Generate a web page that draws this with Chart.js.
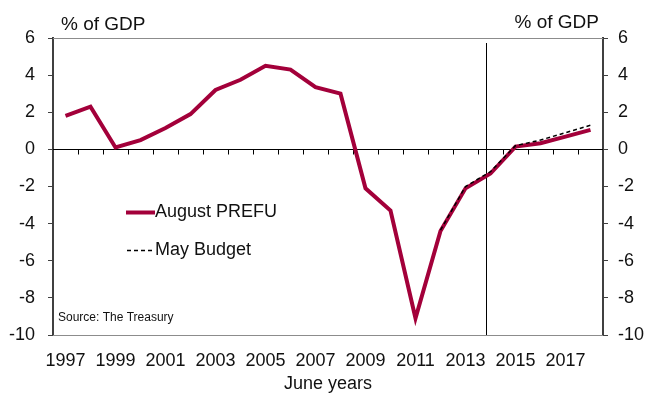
<!DOCTYPE html>
<html>
<head>
<meta charset="utf-8">
<script src="https://cdn.jsdelivr.net/npm/chart.js@4/dist/chart.umd.min.js"></script>
<style>
  body { margin: 0; background: #fff; }
  #wrap { width: 648px; height: 393px; }
</style>
</head>
<body>
<div id="wrap"><canvas id="chart1" width="648" height="393"></canvas></div>
<script>
var years = ["1997", "1998", "1999", "2000", "2001", "2002", "2003", "2004", "2005", "2006", "2007",
  "2008", "2009", "2010", "2011", "2012", "2013", "2014", "2015", "2016", "2017", "2018"];
var augustPrefu = [1.8, 2.3, 0.1, 0.5, 1.15, 1.9, 3.2, 3.75, 4.5, 4.3, 3.35,
  3.0, -2.1, -3.3, -9.1, -4.4, -2.1, -1.3, 0.15, 0.33, 0.69, 1.05];
var mayBudget = [null, null, null, null, null, null, null, null, null, null, null,
  null, null, null, null, -4.35, -2.0, -1.2, 0.2, 0.5, 0.9, 1.3];
var yTicks = [-10, -8, -6, -4, -2, 0, 2, 4, 6];
var forecastMarker = 16.8; // category index where the vertical line sits

var FONT = "'Liberation Sans', Arial, sans-serif";
var RED = "#a3003a";

var overlay = {
  id: "overlay",
  beforeDatasetsDraw: function (chart) {
    var ctx = chart.ctx;
    var a = chart.chartArea;
    var x = chart.scales.x;
    var y = chart.scales.y;
    ctx.save();
    // top and bottom frame
    ctx.strokeStyle = "#8c8c8c";
    ctx.lineWidth = 1;
    ctx.beginPath();
    ctx.moveTo(a.left, a.top + 0.5);
    ctx.lineTo(a.right, a.top + 0.5);
    ctx.moveTo(a.left, a.bottom + 0.5);
    ctx.lineTo(a.right, a.bottom + 0.5);
    ctx.stroke();
    // zero line with ticks between categories
    var y0 = Math.round(y.getPixelForValue(0)) + 0.5;
    ctx.strokeStyle = "#000";
    ctx.beginPath();
    ctx.moveTo(a.left, y0);
    ctx.lineTo(a.right, y0);
    var step = x.getPixelForValue(1) - x.getPixelForValue(0);
    for (var i = 1; i < years.length; i++) {
      var px = Math.round(x.getPixelForValue(i) - step / 2) + 0.5;
      ctx.moveTo(px, y0);
      ctx.lineTo(px, y0 + 5);
    }
    // forecast marker
    var mx = Math.round(x.getPixelForValue(0) + forecastMarker * step) + 0.5;
    ctx.moveTo(mx, a.top + 5);
    ctx.lineTo(mx, a.bottom);
    ctx.stroke();
    ctx.restore();
  },
  afterDraw: function (chart) {
    var ctx = chart.ctx;
    ctx.save();
    ctx.fillStyle = "#111";
    ctx.textBaseline = "middle";
    ctx.font = "19px " + FONT;
    ctx.textAlign = "left";
    ctx.fillText("% of GDP", 61, 25);
    ctx.textAlign = "right";
    ctx.fillText("% of GDP", 599, 23);
    // legend
    ctx.textAlign = "left";
    ctx.font = "18px " + FONT;
    ctx.strokeStyle = RED;
    ctx.lineWidth = 4;
    ctx.beginPath();
    ctx.moveTo(126, 212.5);
    ctx.lineTo(155, 212.5);
    ctx.stroke();
    ctx.fillText("August PREFU", 155, 212);
    ctx.strokeStyle = "#000";
    ctx.lineWidth = 1.5;
    ctx.setLineDash([4, 3]);
    ctx.beginPath();
    ctx.moveTo(127, 250.5);
    ctx.lineTo(154, 250.5);
    ctx.stroke();
    ctx.setLineDash([]);
    ctx.fillText("May Budget", 155, 250);
    // source
    ctx.font = "12px " + FONT;
    ctx.fillText("Source: The Treasury", 58, 318);
    ctx.restore();
  }
};

var ctx = document.getElementById("chart1");
var myChart = new Chart(ctx, {
  type: "line",
  data: {
    labels: years,
    datasets: [
      {
        label: "August PREFU",
        data: augustPrefu,
        borderColor: RED,
        borderWidth: 4,
        pointRadius: 0,
        tension: 0,
        order: 2,
      },
      {
        label: "May Budget",
        data: mayBudget,
        borderColor: "#000",
        borderWidth: 1.5,
        borderDash: [4, 3],
        pointRadius: 0,
        tension: 0,
        order: 1,
      },
    ],
  },
  options: {
    responsive: false,
    animation: false,
    layout: { padding: { top: 38, left: 0, right: 0, bottom: 0 } },
    plugins: {
      legend: { display: false },
      tooltip: { enabled: false },
    },
    scales: {
      x: {
        type: "category",
        offset: true,
        grid: { display: false, drawTicks: false },
        border: { display: false },
        ticks: {
          autoSkip: false,
          maxRotation: 0,
          padding: 15,
          color: "#111",
          font: { size: 18, family: FONT },
          callback: function (val, index) {
            return index % 2 === 0 ? this.getLabelForValue(val) : "";
          },
        },
        title: {
          display: true,
          text: "June years",
          color: "#111",
          padding: { top: 0, bottom: -2 },
          font: { size: 18, family: FONT },
        },
        afterFit: function (s) { s.height = 58; },
      },
      y: {
        position: "left",
        min: -10,
        max: 6,
        afterBuildTicks: function (s) { s.ticks = yTicks.map(function (v) { return { value: v }; }); },
        grid: { drawOnChartArea: false, tickLength: 5, color: "#404040" },
        border: { color: "#404040", width: 2 },
        ticks: { padding: 13, color: "#111", font: { size: 18, family: FONT } },
        afterFit: function (s) { s.width = 53; },
      },
      y2: {
        position: "right",
        min: -10,
        max: 6,
        afterBuildTicks: function (s) { s.ticks = yTicks.map(function (v) { return { value: v }; }); },
        grid: { drawOnChartArea: false, tickLength: 5, color: "#404040" },
        border: { color: "#404040", width: 2 },
        ticks: { padding: 10, color: "#111", font: { size: 18, family: FONT } },
        afterFit: function (s) { s.width = 45; },
      },
    },
  },
  plugins: [overlay],
});
</script>
</body>
</html>
